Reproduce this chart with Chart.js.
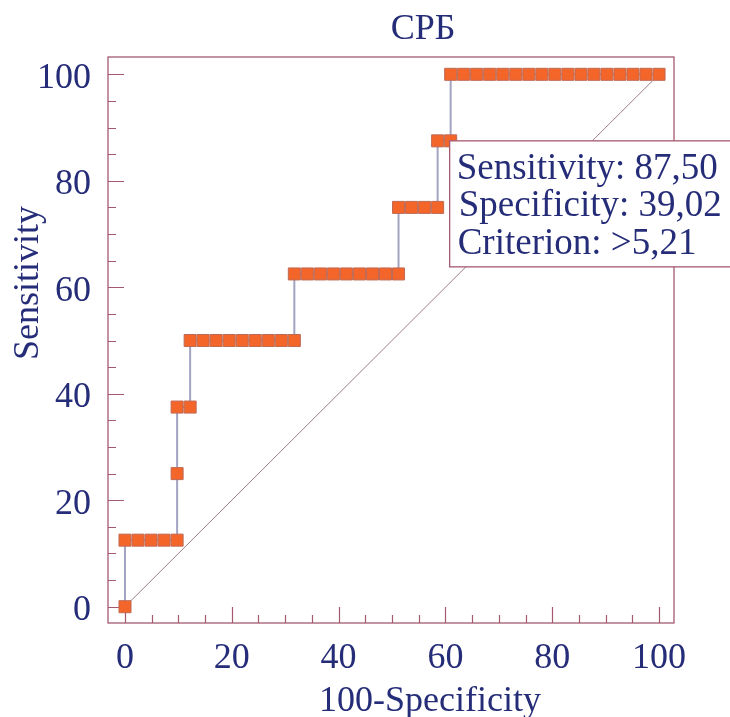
<!DOCTYPE html>
<html>
<head>
<meta charset="utf-8">
<title>СРБ</title>
<script src="https://cdn.jsdelivr.net/npm/chart.js@4.4.1/dist/chart.umd.min.js"></script>
<style>
  html, body { margin: 0; padding: 0; background: #fff; }
  #wrap { width: 730px; height: 717px; position: relative; }
</style>
</head>
<body>
<div id="wrap"><canvas id="roc"></canvas></div>
<script>
const TITLE = "СРБ";
const X_LABEL = "100-Specificity";
const Y_LABEL = "Sensitivity";

// ROC points in curve order: 100-specificity and sensitivity
const fpr = [
  0, 0, 2.44, 4.88, 7.32, 9.76,
  9.76, 9.76, 12.2,
  12.2, 14.63, 17.07, 19.51, 21.95, 24.39, 26.83, 29.27, 31.71,
  31.71, 34.15, 36.59, 39.02, 41.46, 43.9, 46.34, 48.78, 51.22,
  51.22, 53.66, 56.1, 58.54,
  58.54, 60.98,
  60.98, 63.41, 65.85, 68.29, 70.73, 73.17, 75.61, 78.05, 80.49,
  82.93, 85.37, 87.8, 90.24, 92.68, 95.12, 97.56, 100
];
const sens = [
  0, 12.5, 12.5, 12.5, 12.5, 12.5,
  25, 37.5, 37.5,
  50, 50, 50, 50, 50, 50, 50, 50, 50,
  62.5, 62.5, 62.5, 62.5, 62.5, 62.5, 62.5, 62.5, 62.5,
  75, 75, 75, 75,
  87.5, 87.5,
  100, 100, 100, 100, 100, 100, 100, 100, 100,
  100, 100, 100, 100, 100, 100, 100, 100
];

// chance line
const diagX = [0, 100];
const diagY = [0, 100];

const tickValues = [0, 20, 40, 60, 80, 100];

// selected cut-off shown in the note box
const criterion = { sensitivity: 87.5, specificity: 39.02, label: ">5,21" };

const INK = "#262d78";
const FRAME = "#a4596f";
const FONT_FAMILY = "'Liberation Serif', 'Times New Roman', serif";

function fmt(v) {
  return v.toFixed(2).replace(".", ",");
}

const rocPoints = fpr.map((v, i) => ({ x: v, y: sens[i] }));
const diagPoints = diagX.map((v, i) => ({ x: v, y: diagY[i] }));

const frameAndNotes = {
  id: "frameAndNotes",
  beforeDatasetsDraw(chart) {
    const { ctx, chartArea: a, scales: { x, y } } = chart;
    ctx.save();
    ctx.strokeStyle = FRAME;
    ctx.lineWidth = 1.3;
    ctx.strokeRect(a.left, a.top, a.right - a.left, a.bottom - a.top);

    // inward ticks on left and bottom, long every 20
    ctx.lineWidth = 1.2;
    for (let v = 0; v <= 100; v += 5) {
      const len = v % 20 === 0 ? 16 : 8;
      const px = Math.round(x.getPixelForValue(v)) + 0.5;
      const py = Math.round(y.getPixelForValue(v)) + 0.5;
      ctx.beginPath();
      ctx.moveTo(px, a.bottom);
      ctx.lineTo(px, a.bottom - len);
      ctx.moveTo(a.left, py);
      ctx.lineTo(a.left + len, py);
      ctx.stroke();
    }
    ctx.restore();
  },
  afterDraw(chart) {
    const { ctx, scales: { x, y } } = chart;
    ctx.save();

    // note box anchored on the criterion point
    const bx = x.getPixelForValue(100 - criterion.specificity) - 1;
    const by = y.getPixelForValue(criterion.sensitivity);
    ctx.fillStyle = "#fff";
    ctx.fillRect(bx, by, chart.width - bx + 10, 126);
    ctx.strokeStyle = FRAME;
    ctx.lineWidth = 1.3;
    ctx.strokeRect(bx, by, chart.width - bx + 10, 126);

    ctx.font = "37px " + FONT_FAMILY;
    ctx.fillStyle = INK;
    ctx.textAlign = "left";
    ctx.textBaseline = "alphabetic";
    ctx.fillText("Sensitivity: " + fmt(criterion.sensitivity), bx + 7, by + 38);
    ctx.fillText("Specificity: " + fmt(criterion.specificity), bx + 9, by + 75.5);
    ctx.fillText("Criterion: " + criterion.label, bx + 8, by + 113);

    // title and axis titles
    ctx.font = "36px " + FONT_FAMILY;
    ctx.textAlign = "center";
    ctx.fillText(TITLE, 423, 39);
    ctx.fillText(X_LABEL, 430, 711);
    ctx.translate(38, 283);
    ctx.rotate(-Math.PI / 2);
    ctx.fillText(Y_LABEL, 0, 0);
    ctx.restore();
  }
};

const tickFont = { family: FONT_FAMILY, size: 36 };

new Chart(document.getElementById("roc"), {
  type: "scatter",
  data: {
    datasets: [
      {
        label: "ROC",
        data: rocPoints,
        showLine: true,
        borderColor: "#a3a3c2",
        borderWidth: 2,
        tension: 0,
        pointStyle: "rect",
        pointRadius: 8.5,
        pointHoverRadius: 8.5,
        pointBackgroundColor: "#f4652a",
        pointBorderColor: "#bf6a55",
        pointBorderWidth: 1
      },
      {
        label: "Chance",
        data: diagPoints,
        showLine: true,
        borderColor: "#9c7d88",
        borderWidth: 1,
        pointRadius: 0,
        pointHoverRadius: 0
      }
    ]
  },
  options: {
    responsive: true,
    maintainAspectRatio: false,
    animation: false,
    events: [],
    layout: { padding: { top: 57, right: 56, left: 0, bottom: 0 } },
    plugins: {
      legend: { display: false },
      tooltip: { enabled: false },
      title: { display: false }
    },
    scales: {
      x: {
        type: "linear",
        min: -3.18,
        max: 102.8,
        afterBuildTicks: (s) => { s.ticks = tickValues.map((v) => ({ value: v })); },
        afterFit: (s) => { s.height = 94; },
        grid: { display: false, drawTicks: false },
        border: { display: false },
        ticks: { font: tickFont, color: INK, padding: 14, maxRotation: 0 }
      },
      y: {
        type: "linear",
        min: -3.06,
        max: 103.25,
        afterBuildTicks: (s) => { s.ticks = tickValues.map((v) => ({ value: v })); },
        afterFit: (s) => { s.width = 108; },
        grid: { display: false, drawTicks: false },
        border: { display: false },
        ticks: { font: tickFont, color: INK, padding: 17, labelOffset: 4 }
      }
    }
  },
  plugins: [frameAndNotes]
});
</script>
</body>
</html>
